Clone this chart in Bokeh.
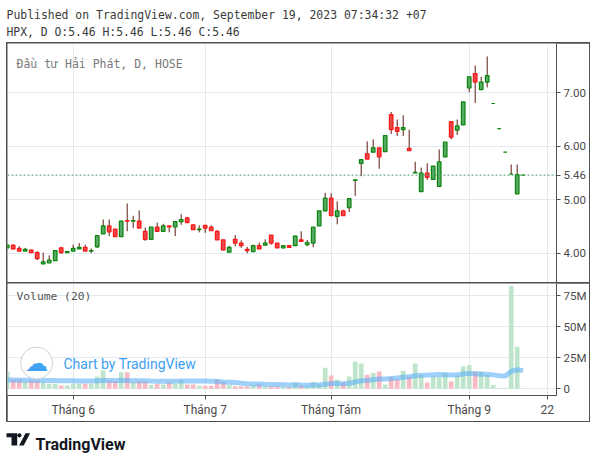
import numpy as np
import pandas as pd
from bokeh.plotting import figure
from bokeh.layouts import column
from bokeh.models import ColumnDataSource, Range1d, FixedTicker, Span, Label, NumeralTickFormatter
from bokeh.embed import file_html
from bokeh.resources import INLINE

# ---------------- data ----------------
publish_line = "Published on TradingView.com, September 19, 2023 07:34:32 +07"
symbol_line = "HPX, D"
pane_title = "Đầu tư Hải Phát, D, HOSE"
volume_title = "Volume (20)"
watermark = "Chart by TradingView"
brand = "TradingView"

bars = list(range(1, 88))
opens = [4.10, 4.15, 4.09, 4.04, 4.06, 4.01, 3.80, 3.82, 3.86, 4.10,
         4.01, 4.04, 4.08, 4.11, 4.04, 4.12, 4.36, 4.51, 4.45, 4.31,
         4.61, 4.60, 4.60, 4.41, 4.26, 4.49, 4.41, 4.51, 4.49, 4.59,
         4.66, 4.53, 4.44, 4.52, 4.49, 4.41, 4.25, 4.02, 4.26, 4.19,
         4.07, 4.03, 4.14, 4.15, 4.34, 4.19, 4.10, 4.14, 4.14, 4.25,
         4.16, 4.19, 4.51, 4.79, 5.03, 4.69, 4.79, 4.85, 5.36, 5.68,
         5.86, 5.89, 5.97, 5.90, 6.59, 6.35, 6.31, 5.96, 5.50, 5.15,
         5.50, 5.38, 5.25, 5.80, 6.46, 6.30, 6.40, 7.09, 7.36, 7.06,
         7.20, 6.80, 6.33, 5.89, 5.48, 5.11, 5.46]
highs = [4.16, 4.16, 4.13, 4.10, 4.07, 4.04, 4.01, 3.96, 4.06, 4.12,
         4.04, 4.16, 4.19, 4.16, 4.09, 4.34, 4.63, 4.63, 4.45, 4.61,
         4.93, 4.70, 4.80, 4.48, 4.49, 4.57, 4.55, 4.51, 4.59, 4.73,
         4.68, 4.53, 4.52, 4.52, 4.52, 4.43, 4.25, 4.14, 4.34, 4.24,
         4.12, 4.16, 4.20, 4.26, 4.34, 4.19, 4.14, 4.15, 4.33, 4.41,
         4.25, 4.49, 4.79, 5.13, 5.12, 4.97, 4.81, 5.02, 5.37, 5.75,
         6.09, 6.13, 5.97, 6.20, 6.64, 6.50, 6.58, 6.31, 5.71, 5.60,
         5.68, 5.63, 5.94, 6.08, 6.46, 6.50, 6.83, 7.30, 7.51, 7.30,
         7.68, 6.80, 6.33, 5.89, 5.66, 5.66, 5.46]
lows = [4.09, 4.07, 4.03, 4.04, 4.01, 3.87, 3.80, 3.82, 3.86, 3.99,
        4.01, 4.04, 4.08, 4.04, 4.00, 4.10, 4.36, 4.32, 4.31, 4.31,
        4.41, 4.47, 4.47, 4.23, 4.26, 4.41, 4.41, 4.39, 4.32, 4.53,
        4.57, 4.44, 4.39, 4.38, 4.42, 4.25, 4.05, 4.02, 4.13, 4.10,
        4.00, 4.03, 4.08, 4.15, 4.16, 4.10, 4.09, 4.11, 4.14, 4.22,
        4.13, 4.11, 4.51, 4.79, 4.70, 4.54, 4.70, 4.77, 5.07, 5.44,
        5.76, 5.88, 5.58, 5.90, 6.23, 6.19, 6.19, 5.92, 5.50, 5.15,
        5.37, 5.38, 5.25, 5.80, 6.13, 6.21, 6.40, 7.01, 6.81, 7.06,
        7.10, 6.80, 6.33, 5.89, 5.48, 5.11, 5.46]
closes = [4.15, 4.08, 4.04, 4.07, 4.01, 3.90, 3.84, 3.87, 4.05, 4.01,
          4.03, 4.09, 4.11, 4.04, 4.05, 4.33, 4.51, 4.40, 4.31, 4.60,
          4.60, 4.61, 4.47, 4.26, 4.49, 4.41, 4.51, 4.49, 4.59, 4.63,
          4.57, 4.44, 4.45, 4.47, 4.42, 4.25, 4.06, 4.11, 4.19, 4.14,
          4.05, 4.14, 4.08, 4.19, 4.19, 4.10, 4.14, 4.11, 4.32, 4.22,
          4.20, 4.49, 4.79, 5.03, 4.70, 4.79, 4.70, 5.02, 5.37, 5.75,
          5.76, 5.97, 5.80, 6.20, 6.31, 6.28, 6.35, 5.92, 5.51, 5.50,
          5.42, 5.63, 5.71, 6.08, 6.17, 6.38, 6.83, 7.30, 7.20, 7.20,
          7.32, 6.80, 6.33, 5.89, 5.48, 5.47, 5.46]
volumes_m = [14.0, 7.5, 7.5, 5.4, 6.7, 6.7, 5.4, 4.0, 4.0, 2.7,
             2.7, 4.0, 4.0, 4.0, 4.0, 10.0, 15.0, 6.7, 6.0, 13.4,
             13.4, 5.0, 6.0, 6.0, 3.0, 4.0, 3.5, 5.0, 4.0, 7.0,
             3.5, 3.5, 2.5, 2.5, 2.5, 7.5, 5.5, 3.0, 2.0, 2.0,
             2.0, 3.0, 3.5, 2.0, 2.0, 2.0, 1.5, 1.5, 5.0, 2.4,
             2.0, 5.4, 3.5, 17.0, 10.8, 7.5, 4.8, 10.0, 22.0, 20.4,
             11.3, 13.0, 14.0, 3.5, 9.5, 8.0, 14.6, 9.7, 20.4, 11.3,
             5.0, 10.0, 9.4, 13.0, 6.0, 10.8, 18.0, 19.0, 14.0, 14.0,
             11.3, 3.0, 0.5, 0.5, 83.0, 34.0, 0.3]
# 20-bar volume MA for the first 19 bars (depends on bars left of the view)
vol_ma_head_m = [7.0, 7.0, 6.9, 6.9, 6.8, 6.8, 6.7, 6.7, 6.6, 6.5,
                 6.4, 6.4, 6.3, 6.3, 6.3, 6.4, 6.6, 6.6, 6.6]

time_tick_bars = [12, 34, 55, 78, 91]
time_tick_labels = ["Tháng 6", "Tháng 7", "Tháng Tám", "Tháng 9", "22"]
price_ticks = [4.0, 5.0, 6.0, 7.0]
volume_ticks = [0, 25e6, 50e6, 75e6]
volume_tick_labels = ["0", "25M", "50M", "75M"]

# watermark badge placement (bar-index / volume units of the volume pane)
badge_bar, badge_vol = 5.9, 20.8e6

# ---------------- styles ----------------
UP_FILL, UP_LINE = "#56a867", "#0b860b"
DN_FILL, DN_LINE = "#e54a4a", "#ff1616"
WICK = "#5c1b12"
VUP, VDN = "#bee5cc", "#f8bac3"
MA_COL = "#5fb1f5"
GRID = "#e2e9ef"
FRAME = "#505050"
AXIS_TXT = "#4a4a4a"
MONO = "DejaVu Sans Mono"
SANS = "Roboto"

df = pd.DataFrame(dict(x=bars, open=opens, high=highs, low=lows, close=closes,
                       vol=np.array(volumes_m) * 1e6))
up = df["close"] >= df["open"]
df["top"] = np.maximum(df["open"], df["close"])
df["bottom"] = np.minimum(df["open"], df["close"])
df["fill"] = np.where(up, UP_FILL, DN_FILL)
df["line"] = np.where(up, UP_LINE, DN_LINE)
df["vfill"] = np.where(up, VUP, VDN)
ma = df["vol"].rolling(20).mean()
ma.iloc[:19] = np.array(vol_ma_head_m) * 1e6
df["ma"] = ma
src = ColumnDataSource(df)

FW = 549
PH = 239
x_rng = Range1d(1.05, 92.55)
p_rng = Range1d(3.452, 7.922)


def style_yaxis(ax):
    ax.axis_line_color = FRAME
    ax.major_tick_line_color = FRAME
    ax.major_tick_out = 4
    ax.major_tick_in = 0
    ax.minor_tick_line_color = None
    ax.major_label_standoff = 3
    ax.major_label_text_font = SANS
    ax.major_label_text_font_size = "11.5px"
    ax.major_label_text_color = AXIS_TXT


# ---------------- header ----------------
ph = figure(width=590, height=42, x_range=Range1d(0, 590), y_range=Range1d(0, 42),
            output_backend="svg", toolbar_location=None, x_axis_location=None,
            y_axis_location=None, min_border=0, outline_line_color=None)
ph.grid.visible = False
ph.add_layout(Label(x=6, y=28, text=publish_line, text_font=MONO, text_font_size="11.45px",
                    text_color="#3a3a3a", text_baseline="middle"))
ohlc_line = (f"{symbol_line} O:{opens[-1]:.2f} H:{highs[-1]:.2f} "
             f"L:{lows[-1]:.2f} C:{closes[-1]:.2f}")
ph.add_layout(Label(x=6, y=11, text=ohlc_line, text_font=MONO, text_font_size="11.4px",
                    text_color="#3a3a3a", text_baseline="middle"))

# ---------------- price pane ----------------
pp = figure(frame_width=FW, frame_height=PH, x_range=x_rng, y_range=p_rng,
            output_backend="svg", toolbar_location=None, x_axis_location=None,
            y_axis_location="right", min_border_left=0, min_border_right=33,
            min_border_top=0, min_border_bottom=0, outline_line_color=None,
            background_fill_color="white", border_fill_color="white")
pp.ygrid.ticker = FixedTicker(ticks=price_ticks)
pp.xgrid.ticker = FixedTicker(ticks=time_tick_bars)
pp.grid.grid_line_color = GRID
# price scale: regular ticks plus the last-price marker value
pp.yaxis.ticker = FixedTicker(ticks=sorted(price_ticks + [closes[-1]]))
pp.yaxis.formatter = NumeralTickFormatter(format="0.00")
style_yaxis(pp.yaxis[0])

pp.segment(x0="x", y0="low", x1="x", y1="high", source=src, line_color=WICK, line_width=1)
pp.vbar(x="x", width=0.6, top="top", bottom="bottom", fill_color="fill",
        line_color="line", line_width=1.2, source=src)
pp.add_layout(Span(location=closes[-1], dimension="width", line_color="#4e9c6d",
                   line_dash="2 2", line_width=1))
pp.add_layout(Label(x=9, y=219, x_units="screen", y_units="screen", text=pane_title,
                    text_font=MONO, text_font_size="11.5px", text_color="#7a7a7a",
                    text_baseline="middle"))

# ---------------- volume pane ----------------
pv = figure(frame_width=FW, frame_height=112, x_range=x_rng, y_range=Range1d(-5.40e6, 84.92e6),
            output_backend="svg", toolbar_location=None, x_axis_location="below",
            y_axis_location="right", min_border_left=0, min_border_right=33,
            min_border_top=0, min_border_bottom=26, outline_line_color=None,
            background_fill_color="white", border_fill_color="white")
pv.ygrid.ticker = FixedTicker(ticks=volume_ticks)
pv.xgrid.ticker = FixedTicker(ticks=time_tick_bars)
pv.grid.grid_line_color = GRID
pv.yaxis.ticker = FixedTicker(ticks=volume_ticks)
pv.yaxis.major_label_overrides = {float(k): v for k, v in zip(volume_ticks, volume_tick_labels)}
style_yaxis(pv.yaxis[0])
xa = pv.xaxis[0]
xa.ticker = FixedTicker(ticks=time_tick_bars)
xa.major_label_overrides = dict(zip(time_tick_bars, time_tick_labels))
xa.axis_line_color = FRAME
xa.major_tick_line_color = FRAME
xa.major_tick_out = 4
xa.major_tick_in = 0
xa.minor_tick_line_color = None
xa.major_label_standoff = 3
xa.major_label_text_font = SANS
xa.major_label_text_font_size = "12px"
xa.major_label_text_color = AXIS_TXT

pv.vbar(x="x", width=0.78, top="vol", bottom=0, fill_color="vfill", line_color=None, source=src)
pv.line(x="x", y="ma", line_color=MA_COL, line_alpha=0.6, line_width=5, source=src)
pv.add_layout(Label(x=9, y=99, x_units="screen", y_units="screen", text=volume_title,
                    text_font=MONO, text_font_size="11.3px", text_color="#555555",
                    text_baseline="middle"))
# watermark: round badge + text
pv.scatter([badge_bar], [badge_vol], marker="circle", size=32, fill_color="white",
           line_color="#cdd3da", line_width=1)
pv.add_layout(Label(x=29, y=32.5, x_units="screen", y_units="screen", text="\u2601",
                    text_font="DejaVu Sans", text_font_size="23px", text_color="#3fa2f2",
                    text_align="center", text_baseline="middle"))
pv.add_layout(Label(x=56, y=32, x_units="screen", y_units="screen", text=watermark,
                    text_font=SANS, text_font_size="14px", text_color="#3d9ff1",
                    text_baseline="middle"))

# ---------------- footer ----------------
pf = figure(width=590, height=33, x_range=Range1d(0, 590), y_range=Range1d(0, 33),
            output_backend="svg", toolbar_location=None, x_axis_location=None,
            y_axis_location=None, min_border=0, outline_line_color=None)
pf.grid.visible = False
pf.patch([6, 16.7, 16.7, 11, 11, 6], [22.3, 22.3, 10, 10, 18.3, 18.3], fill_color="#131722",
         line_color=None)
pf.patch([18.6, 23.2, 29.6, 25.0], [10, 10, 22.3, 22.3], fill_color="#131722", line_color=None)
pf.scatter([18.9], [20.2], size=4.2, fill_color="#131722", line_color=None)
pf.add_layout(Label(x=35, y=11.5, text=brand, text_font=SANS, text_font_style="bold",
                    text_font_size="16px", text_color="#131722", text_baseline="alphabetic"))

box = column(pp, pv, spacing=1, margin=(0, 0, 0, 6),
             styles={"background-color": FRAME, "padding": "1px"})
layout = column(ph, box, pf, spacing=0)

open("out.html", "w").write(file_html(layout, INLINE))
